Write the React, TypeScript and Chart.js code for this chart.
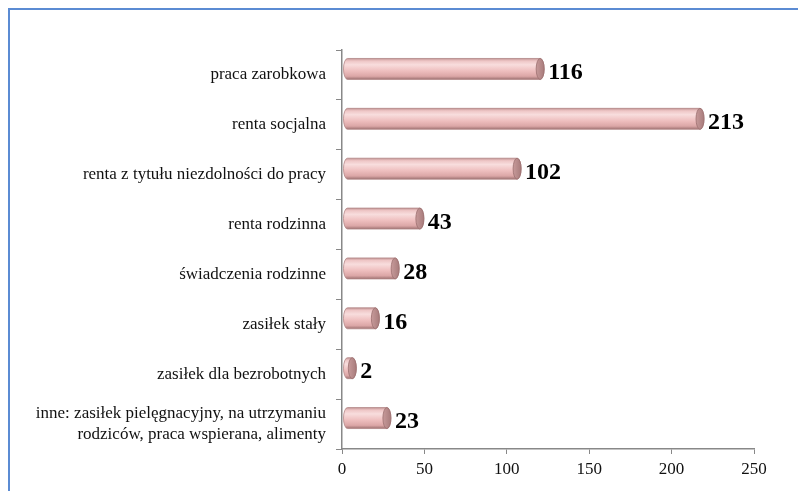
import React, { useEffect, useRef } from "react";
import { Chart, registerables } from "chart.js";
Chart.register(...registerables);

const categories: (string | string[])[] = [
  "praca zarobkowa",
  "renta socjalna",
  "renta z tytułu niezdolności do pracy",
  "renta rodzinna",
  "świadczenia rodzinne",
  "zasiłek stały",
  "zasiłek dla bezrobotnych",
  ["inne: zasiłek pielęgnacyjny, na utrzymaniu", "rodziców, praca wspierana, alimenty"],
];
const values = [116, 213, 102, 43, 28, 16, 2, 23];
const xMin = 0;
const xMax = 250;
const xStep = 50;

const SERIF = '"Liberation Serif", "Times New Roman", serif';

const cylinderPlugin = {
  id: "cylinder",
  afterDatasetsDraw(chart: any) {
    const ctx = chart.ctx as CanvasRenderingContext2D;
    const meta = chart.getDatasetMeta(0);
    meta.data.forEach((bar: any, i: number) => {
      const { x, y, base, height } = bar.getProps(["x", "y", "base", "height"], true);
      const h = height;
      const dy = -6;
      const cy = y + dy;
      const x0 = base + 5;
      const x1 = Math.max(x + 7, x0 + 1);
      const top = cy - h / 2;
      const bot = cy + h / 2;
      const rx = 4;
      ctx.save();
      const g = ctx.createLinearGradient(0, top, 0, bot);
      g.addColorStop(0, "#c49696");
      g.addColorStop(0.12, "#eec6c6");
      g.addColorStop(0.3, "#f8dddd");
      g.addColorStop(0.6, "#eebebe");
      g.addColorStop(0.85, "#dba6a6");
      g.addColorStop(1, "#9e7272");
      ctx.beginPath();
      ctx.moveTo(x0, top);
      ctx.lineTo(x1, top);
      ctx.ellipse(x1, cy, rx, h / 2, 0, -Math.PI / 2, Math.PI / 2);
      ctx.lineTo(x0, bot);
      ctx.ellipse(x0, cy, rx, h / 2, 0, Math.PI / 2, (3 * Math.PI) / 2);
      ctx.closePath();
      ctx.fillStyle = g;
      ctx.fill();
      ctx.strokeStyle = "#b38787";
      ctx.lineWidth = 0.8;
      ctx.stroke();
      // end cap
      const cg = ctx.createLinearGradient(x1 - rx, 0, x1 + rx, 0);
      cg.addColorStop(0, "#c79a9a");
      cg.addColorStop(1, "#a87c7c");
      ctx.beginPath();
      ctx.ellipse(x1, cy, rx, h / 2, 0, 0, Math.PI * 2);
      ctx.fillStyle = cg;
      ctx.fill();
      ctx.strokeStyle = "#9a6e6e";
      ctx.stroke();
      // value label
      ctx.fillStyle = "#000";
      ctx.font = `bold 24px ${SERIF}`;
      ctx.textAlign = "left";
      ctx.textBaseline = "middle";
      ctx.fillText(String(values[i]), x1 + rx + 4, cy + 4);
      ctx.restore();
    });
  },
};

export default function App() {
  const ref = useRef<HTMLCanvasElement>(null);
  useEffect(() => {
    if (!ref.current) return;
    const chart = new Chart(ref.current, {
      type: "bar",
      data: {
        labels: categories,
        datasets: [
          {
            data: values,
            backgroundColor: "rgba(0,0,0,0)",
            borderWidth: 0,
            barPercentage: 0.42,
            categoryPercentage: 1,
          },
        ],
      },
      options: {
        indexAxis: "y",
        responsive: false,
        animation: false,
        layout: { padding: { top: 50, right: 44, bottom: 0, left: 0 } },
        plugins: { legend: { display: false }, tooltip: { enabled: false } },
        scales: {
          x: {
            min: xMin,
            max: xMax,
            ticks: { stepSize: xStep, color: "#111", font: { family: SERIF, size: 17 }, padding: 5 },
            grid: { drawOnChartArea: false, tickLength: 5, color: "#888" },
            border: { color: "#888", width: 1.5 },
            afterFit: (s: any) => { s.height = 42; },
          },
          y: {
            ticks: { color: "#111", font: { family: SERIF, size: 17 }, padding: 10 },
            grid: { drawOnChartArea: false, tickLength: 6, color: "#888", offset: true },
            border: { color: "#888", width: 1.5 },
            afterFit: (s: any) => { s.width = 342; },
          },
        },
      },
      plugins: [cylinderPlugin],
    });
    return () => chart.destroy();
  }, []);
  return (
    <div style={{ position: "fixed", left: 0, top: 0, width: 798, height: 491, background: "#fff", overflow: "hidden" }}>
      <canvas ref={ref} width={798} height={491} style={{ position: "absolute", left: 0, top: 0 }} />
      <div
        style={{
          position: "absolute",
          left: 8,
          top: 8,
          width: 1000,
          height: 1000,
          borderTop: "2px solid #5b8bd3",
          borderLeft: "2px solid #5b8bd3",
          pointerEvents: "none",
        }}
      />
    </div>
  );
}
